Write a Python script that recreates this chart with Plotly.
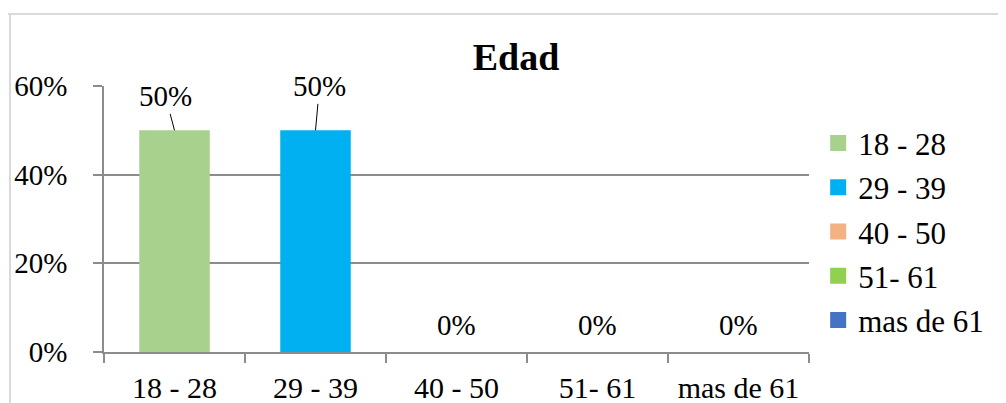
import plotly.graph_objects as go

categories = ["18 - 28", "29 - 39", "40 - 50", "51- 61", "mas de 61"]
values = [0.50, 0.50, 0.0, 0.0, 0.0]
colors = ["#A9D18E", "#00B0F0", "#F4B183", "#92D050", "#4472C4"]
y_ticks = [0, 0.2, 0.4, 0.6]
y_tick_labels = ["0%", "20%", "40%", "60%"]
title_text = "Edad"

FONT = "Liberation Serif"
GRID = "#8c8c8c"

# The page places the figure 8px from the top-left corner, so the figure is
# drawn 8px smaller and all placements are relative to that offset.
W, H = 998, 395
L, R, T, B = 96, 197, 78, 51
PW, PH = W - L - R, H - T - B

fig = go.Figure()
for i, (cat, val, col) in enumerate(zip(categories, values, colors)):
    fig.add_trace(go.Bar(x=[cat], y=[val], name=cat, marker=dict(color=col, line=dict(width=0)),
                         width=0.5, showlegend=False, legendgroup=cat))
    fig.add_trace(go.Scatter(x=[None], y=[None], mode="markers", name=cat, legendgroup=cat,
                             marker=dict(symbol="square", size=16, color=col)))

# data labels
label_offsets = [(-9, -34), (4, -44)]
for i, (cat, val) in enumerate(zip(categories, values)):
    txt = f"{val*100:.0f}%"
    if val > 0:
        ax, ay = label_offsets[i] if i < len(label_offsets) else (0, -35)
        fig.add_annotation(x=cat, y=val, text=txt, showarrow=True, arrowhead=0, arrowwidth=1,
                           arrowcolor="black", ax=ax, ay=ay, font=dict(family=FONT, size=29, color="black"))
    else:
        fig.add_annotation(x=cat, y=val, text=txt, showarrow=False, yshift=27,
                           font=dict(family=FONT, size=29, color="black"))

# chart border (Excel chart area); screen coords 14 (top) and 10 (left)
top_y = 1 + (T - 6) / PH
left_x = (2 - L) / PW
fig.add_shape(type="line", xref="paper", yref="paper", x0=(-3 - L) / PW, x1=(W - L) / PW,
              y0=top_y, y1=top_y, line=dict(color="#d9d9d9", width=2))
fig.add_shape(type="line", xref="paper", yref="paper", x0=left_x, x1=left_x,
              y0=top_y, y1=-(B + 10) / PH, line=dict(color="#d9d9d9", width=2))

fig.update_layout(
    width=W, height=H,
    margin=dict(l=L, r=R, t=T, b=B, autoexpand=False),
    paper_bgcolor="white", plot_bgcolor="white",
    barmode="overlay",
    font=dict(family=FONT, size=30, color="black"),
    title=dict(text=f"<b>{title_text}</b>", x=508 / W, xanchor="center", xref="container",
               y=1 - 49 / H, yanchor="middle", yref="container",
               font=dict(family=FONT, size=38, color="black")),
    legend=dict(x=1.013, xanchor="left", y=0.452, yanchor="middle", traceorder="grouped",
                tracegroupgap=1, font=dict(family=FONT, size=31), bgcolor="rgba(0,0,0,0)"),
    xaxis=dict(categoryorder="array", categoryarray=categories, showgrid=False, automargin=False,
               showline=True, linecolor=GRID, linewidth=1.5, ticks="outside", ticklen=9,
               tickcolor=GRID, tickwidth=1.5, tickson="boundaries", ticklabelstandoff=8,
               tickfont=dict(family=FONT, size=30), range=[-0.5, 4.5]),
    yaxis=dict(range=[0, 0.6], tickvals=y_ticks, ticktext=y_tick_labels, showgrid=True,
               automargin=False,
               gridcolor=GRID, gridwidth=1.5, showline=True, linecolor=GRID, linewidth=1.5,
               ticks="outside", ticklen=9, tickcolor=GRID, tickwidth=1.5, zeroline=False,
               ticklabelstandoff=20, tickfont=dict(family=FONT, size=29)),
)

fig.write_html("out.html")
